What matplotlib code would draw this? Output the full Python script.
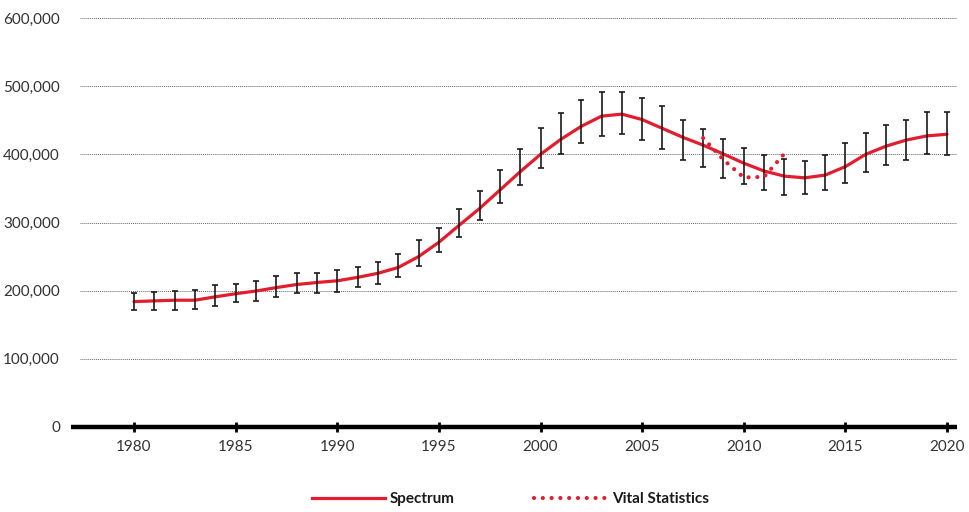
import matplotlib

matplotlib.use("Agg")
import matplotlib.pyplot as plt
import numpy as np
from matplotlib.lines import Line2D
from matplotlib.ticker import FuncFormatter

plt.rcParams["font.family"] = ["Lato", "DejaVu Sans"]

years = np.arange(1980, 2021)

# Spectrum estimate with lower/upper uncertainty bounds
spectrum = [
    184000, 185000, 186000, 186000, 191000, 195500, 199500, 204500, 209000, 212000,
    214500, 219500, 225500, 234000, 250000, 271000, 296000, 320500, 347500, 374500,
    400000, 422000, 441000, 456000, 459000, 451000, 438000, 425000, 413500, 400500,
    387000, 375500, 368000, 365500, 369500, 382000, 400000, 412000, 421000, 427000,
    429500,
]
lower = [
    171500, 171500, 171500, 173500, 177000, 183000, 184500, 191000, 196000, 196500,
    198500, 205000, 209500, 219500, 235500, 257000, 279000, 303000, 328000, 355000,
    380000, 400000, 417000, 427500, 430000, 421000, 407500, 391500, 381000, 366000,
    356000, 347500, 341000, 342500, 347500, 358500, 374500, 385000, 391000, 401000,
    399000,
]
upper = [
    196000, 198500, 199500, 201500, 208000, 210500, 214500, 221500, 226000, 226000,
    231000, 235000, 242500, 253500, 274000, 292500, 320000, 346500, 377500, 408000,
    438000, 460000, 479000, 491500, 492000, 483000, 470500, 450000, 437000, 423000,
    410000, 399000, 392500, 390000, 399000, 416000, 432000, 443000, 451000, 461500,
    462000,
]

# Vital statistics series
vital_years = [2008, 2009, 2010, 2011, 2012]
vital = [424000, 392000, 366000, 367000, 401000]

RED = "#e31d2d"
DOTS = (0, (0.01, 2.1))

fig = plt.figure(figsize=(9.69, 5.12), dpi=100)
ax = fig.add_axes([71 / 969, 1 - 427 / 512, (957 - 71) / 969, (427 - 18) / 512])

x_left, x_right = 1976.9, 2020.49
ax.set_xlim(x_left, x_right)
ax.set_ylim(0, 600000)

yticks = np.arange(0, 600001, 100000)
grid_start = x_left + 9 / 20.325
ax.hlines(yticks[1:], grid_start, x_right, colors="#666666", linestyles=(0, (1, 1)),
          linewidth=0.7, zorder=1)

ax.plot(years, spectrum, color=RED, linewidth=2.3, solid_capstyle="round",
        solid_joinstyle="round", zorder=2)

spectrum = np.array(spectrum)
yerr = [spectrum - np.array(lower), np.array(upper) - spectrum]
ax.errorbar(years, spectrum, yerr=yerr, fmt="none", ecolor="#1a1a1a",
            elinewidth=1.2, capsize=2.2, capthick=1.2, zorder=3)

ax.plot(vital_years, vital, color=RED, linewidth=3.0, linestyle=DOTS,
        dash_capstyle="round", zorder=4)

for side in ["top", "right", "left"]:
    ax.spines[side].set_visible(False)
ax.spines["bottom"].set_linewidth(3.2)
ax.spines["bottom"].set_color("black")
ax.spines["bottom"].set_capstyle("butt")

ax.set_xticks(np.arange(1980, 2021, 5))
ax.set_yticks(yticks)
ax.yaxis.set_major_formatter(FuncFormatter(lambda v, _: f"{int(v):,}"))
ax.tick_params(axis="y", length=0, pad=8, labelsize=11, labelcolor="#333333")
ax.tick_params(axis="x", direction="inout", length=7, width=2, color="black",
               pad=6, labelsize=11, labelcolor="#333333")

handles = [
    Line2D([], [], color=RED, linewidth=2.3),
    Line2D([], [], color=RED, linewidth=3.0, linestyle=DOTS, dash_capstyle="round"),
]
leg = fig.legend(handles, ["Spectrum", "Vital Statistics"], loc="center",
                 bbox_to_anchor=(0.527, 0.025), ncol=2, frameon=False,
                 handlelength=4.8, handletextpad=0.3, columnspacing=5.2,
                 prop={"weight": "bold", "size": 11})
for t in leg.get_texts():
    t.set_color("#1a1a1a")

fig.savefig("out.png", dpi=100)
